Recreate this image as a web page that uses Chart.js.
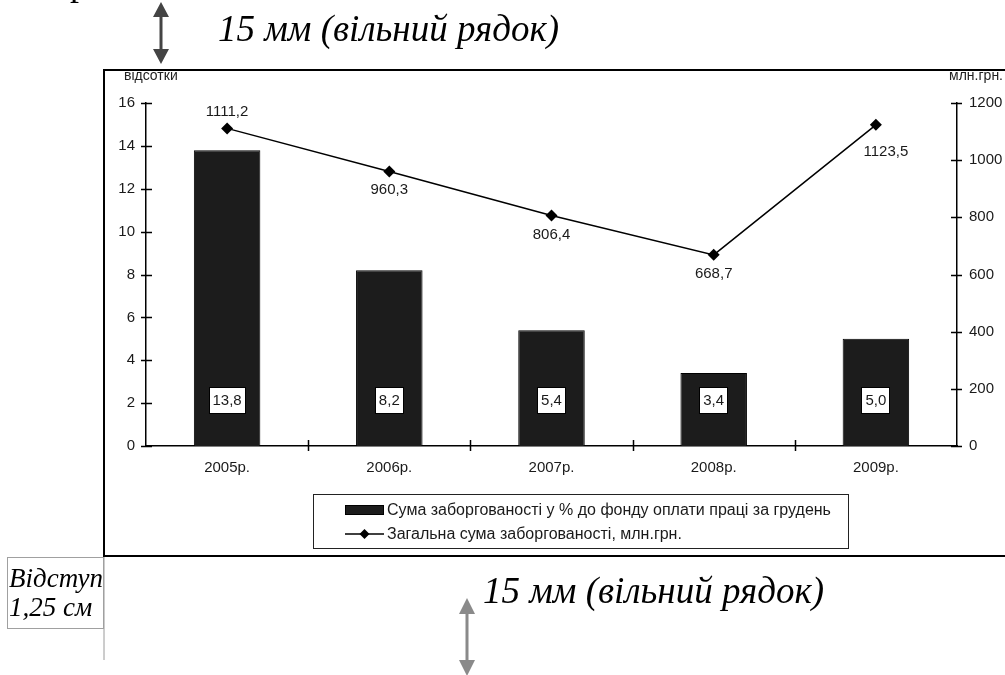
<!DOCTYPE html>
<html lang="uk">
<head>
<meta charset="utf-8">
<title>Заборгованість із виплати заробітної плати</title>
<script src="https://cdn.jsdelivr.net/npm/chart.js@4.4.1/dist/chart.umd.min.js"></script>
<style>
  html, body { margin: 0; padding: 0; background: #fff; }
  body { width: 1005px; height: 675px; position: relative; overflow: hidden; }
  #chart { position: absolute; left: 0; top: 0; }
  #marks { position: absolute; left: 0; top: 0; pointer-events: none; }
  #marks text { font-family: "Liberation Serif", "Times New Roman", serif; fill: #000; }
</style>
</head>
<body>
<canvas id="chart" width="1005" height="675"></canvas>
<svg id="marks" width="1005" height="675" viewBox="0 0 1005 675">
  <!-- tail of the line above -->
  <text x="70" y="-5" font-size="36">р</text>

  <!-- upper spacing note -->
  <g fill="#444" stroke="none">
    <rect x="159.5" y="14" width="3" height="38"/>
    <polygon points="161,2 153,17 169,17"/>
    <polygon points="161,64 153,49 169,49"/>
  </g>
  <text x="218" y="41" font-size="37" font-style="italic">15 мм (вільний рядок)</text>

  <!-- chart frame -->
  <path d="M1006 70 H104 V556 H1006" fill="none" stroke="#000" stroke-width="2"/>
  <line x1="104" y1="557" x2="104" y2="660" stroke="#9a9a9a" stroke-width="1"/>

  <!-- indent note -->
  <rect x="7.5" y="557.5" width="96" height="71" fill="none" stroke="#a0a0a0" stroke-width="1"/>
  <text x="9" y="587" font-size="27" font-style="italic">Відступ</text>
  <text x="9" y="616" font-size="27" font-style="italic">1,25 см</text>

  <!-- lower spacing note -->
  <g fill="#8a8a8a" stroke="none">
    <rect x="465.5" y="612" width="3" height="50"/>
    <polygon points="467,598 459,614 475,614"/>
    <polygon points="467,676 459,660 475,660"/>
  </g>
  <text x="483" y="603" font-size="37" font-style="italic">15 мм (вільний рядок)</text>
</svg>

<script>
// Years on the category axis
const years = ['2005р.', '2006р.', '2007р.', '2008р.', '2009р.'];
// Arrears as % of the December payroll fund (left axis)
const debtShare = [13.8, 8.2, 5.4, 3.4, 5.0];
// Total arrears, million UAH (right axis)
const debtTotal = [1111.2, 960.3, 806.4, 668.7, 1123.5];
// Axis ranges
const shareAxis = { min: 0, max: 16, step: 2 };
const totalAxis = { min: 0, max: 1200, step: 200 };
const shareLabel = 'Сума заборгованості у % до фонду оплати праці за грудень';
const totalLabel = 'Загальна сума заборгованості, млн.грн.';

const SANS = '"Liberation Sans", Arial, sans-serif';
const fmt = v => v.toFixed(1).replace('.', ',');
const plain = v => String(v);

// Ticks that cross the axis lines, as in office charts
const crossTicks = {
  id: 'crossTicks',
  afterDraw(chart) {
    const { ctx, scales: { x, y, y1 } } = chart;
    ctx.save();
    ctx.strokeStyle = '#000';
    ctx.lineWidth = 1.5;
    ctx.beginPath();
    y.ticks.forEach(t => {
      const p = Math.round(y.getPixelForValue(t.value)) + 0.5;
      ctx.moveTo(y.right - 5, p); ctx.lineTo(y.right + 6, p);
    });
    y1.ticks.forEach(t => {
      const p = Math.round(y1.getPixelForValue(t.value)) + 0.5;
      ctx.moveTo(y1.left - 6, p); ctx.lineTo(y1.left + 5, p);
    });
    for (let i = 1; i < x.ticks.length; i++) {
      const p = Math.round((x.getPixelForValue(i - 1) + x.getPixelForValue(i)) / 2) + 0.5;
      ctx.moveTo(p, x.top - 6); ctx.lineTo(p, x.top + 5);
    }
    ctx.stroke();
    ctx.restore();
  }
};

// Axis captions above both value axes
const axisCaptions = {
  id: 'axisCaptions',
  afterDraw(chart) {
    const { ctx, chartArea, scales: { y } } = chart;
    ctx.save();
    ctx.font = '14px ' + SANS;
    ctx.fillStyle = '#222';
    ctx.textBaseline = 'middle';
    ctx.textAlign = 'left';
    ctx.fillText('відсотки', y.right - 22, chartArea.top - 27);
    ctx.textAlign = 'right';
    ctx.fillText('млн.грн.', chart.width - 2, chartArea.top - 27);
    ctx.restore();
  }
};

// Value labels: boxed near the bar base, free text beside the line points
const valueLabels = {
  id: 'valueLabels',
  afterDatasetsDraw(chart) {
    const { ctx, scales: { y } } = chart;
    ctx.save();
    ctx.font = '15px ' + SANS;
    ctx.textAlign = 'center';
    ctx.textBaseline = 'middle';

    const bars = chart.getDatasetMeta(1).data;
    bars.forEach((bar, i) => {
      const txt = fmt(debtShare[i]);
      const w = ctx.measureText(txt).width + 8;
      const h = 27;
      const cy = y.bottom - 46;
      ctx.fillStyle = '#fff';
      ctx.strokeStyle = '#000';
      ctx.lineWidth = 1;
      ctx.fillRect(Math.round(bar.x - w / 2), Math.round(cy - h / 2), Math.round(w), h);
      ctx.strokeRect(Math.round(bar.x - w / 2) + 0.5, Math.round(cy - h / 2) + 0.5, Math.round(w) - 1, h - 1);
      ctx.fillStyle = '#1a1a1a';
      ctx.fillText(txt, bar.x, cy + 1);
    });

    const offsets = [[0, -17], [0, 18], [0, 19], [0, 19], [10, 27]];
    const pts = chart.getDatasetMeta(0).data;
    ctx.fillStyle = '#1a1a1a';
    pts.forEach((pt, i) => {
      ctx.fillText(fmt(debtTotal[i]), pt.x + offsets[i][0], pt.y + offsets[i][1]);
    });
    ctx.restore();
  }
};

// Framed legend under the plot
const boxLegend = {
  id: 'boxLegend',
  afterDraw(chart) {
    const { ctx } = chart;
    const [lineSet, barSet] = chart.data.datasets;
    const box = { x: 313, y: 494, w: 535, h: 54 };
    ctx.save();
    ctx.strokeStyle = '#222';
    ctx.lineWidth = 1;
    ctx.strokeRect(box.x + 0.5, box.y + 0.5, box.w, box.h);

    const sx = box.x + 32, sw = 39, textX = sx + sw + 3;
    const r1 = box.y + 16, r2 = box.y + 40;
    ctx.fillStyle = barSet.backgroundColor;
    ctx.fillRect(sx, r1 - 5, sw, 10);
    ctx.strokeStyle = '#000';
    ctx.strokeRect(sx + 0.5, r1 - 4.5, sw - 1, 9);

    ctx.lineWidth = 1.5;
    ctx.beginPath();
    ctx.moveTo(sx, r2); ctx.lineTo(sx + sw, r2);
    ctx.stroke();
    ctx.fillStyle = '#000';
    ctx.beginPath();
    const cx = sx + sw / 2;
    ctx.moveTo(cx, r2 - 5); ctx.lineTo(cx + 5, r2); ctx.lineTo(cx, r2 + 5); ctx.lineTo(cx - 5, r2);
    ctx.closePath();
    ctx.fill();

    ctx.font = '16px ' + SANS;
    ctx.fillStyle = '#1a1a1a';
    ctx.textAlign = 'left';
    ctx.textBaseline = 'middle';
    ctx.fillText(barSet.label, textX, r1 + 1);
    ctx.fillText(lineSet.label, textX, r2 + 1);
    ctx.restore();
  }
};

new Chart(document.getElementById('chart'), {
  data: {
    labels: years,
    datasets: [
      {
        type: 'line',
        label: totalLabel,
        data: debtTotal,
        yAxisID: 'y1',
        order: 0,
        borderColor: '#000',
        borderWidth: 1.5,
        pointStyle: 'rectRot',
        pointRadius: 6,
        pointBackgroundColor: '#000',
        pointBorderColor: '#000',
        pointBorderWidth: 0,
        tension: 0,
        fill: false
      },
      {
        type: 'bar',
        label: shareLabel,
        data: debtShare,
        yAxisID: 'y',
        order: 1,
        backgroundColor: '#1c1c1c',
        borderColor: '#000',
        borderWidth: 1,
        categoryPercentage: 1,
        barPercentage: 0.41
      }
    ]
  },
  options: {
    responsive: false,
    devicePixelRatio: 1,
    animation: false,
    events: [],
    layout: { padding: { top: 103, left: 0, right: 0, bottom: 0 } },
    plugins: {
      legend: { display: false },
      tooltip: { enabled: false },
      title: { display: false }
    },
    scales: {
      x: {
        type: 'category',
        offset: true,
        grid: { display: false, drawTicks: false },
        border: { display: true, color: '#000', width: 1.5 },
        ticks: { color: '#1a1a1a', font: { family: SANS, size: 15 }, padding: 13 },
        afterFit(s) { s.height = 229; }
      },
      y: {
        type: 'linear',
        position: 'left',
        min: shareAxis.min,
        max: shareAxis.max,
        grid: { display: false, drawTicks: false },
        border: { display: true, color: '#000', width: 1.5 },
        ticks: { stepSize: shareAxis.step, color: '#1a1a1a', font: { family: SANS, size: 15 }, padding: 11, callback: plain },
        afterFit(s) { s.width = 146; }
      },
      y1: {
        type: 'linear',
        position: 'right',
        min: totalAxis.min,
        max: totalAxis.max,
        grid: { display: false, drawTicks: false },
        border: { display: true, color: '#000', width: 1.5 },
        ticks: { stepSize: totalAxis.step, color: '#1a1a1a', font: { family: SANS, size: 15 }, padding: 12, callback: plain },
        afterFit(s) { s.width = 48; }
      }
    }
  },
  plugins: [crossTicks, axisCaptions, valueLabels, boxLegend]
});
</script>
</body>
</html>
